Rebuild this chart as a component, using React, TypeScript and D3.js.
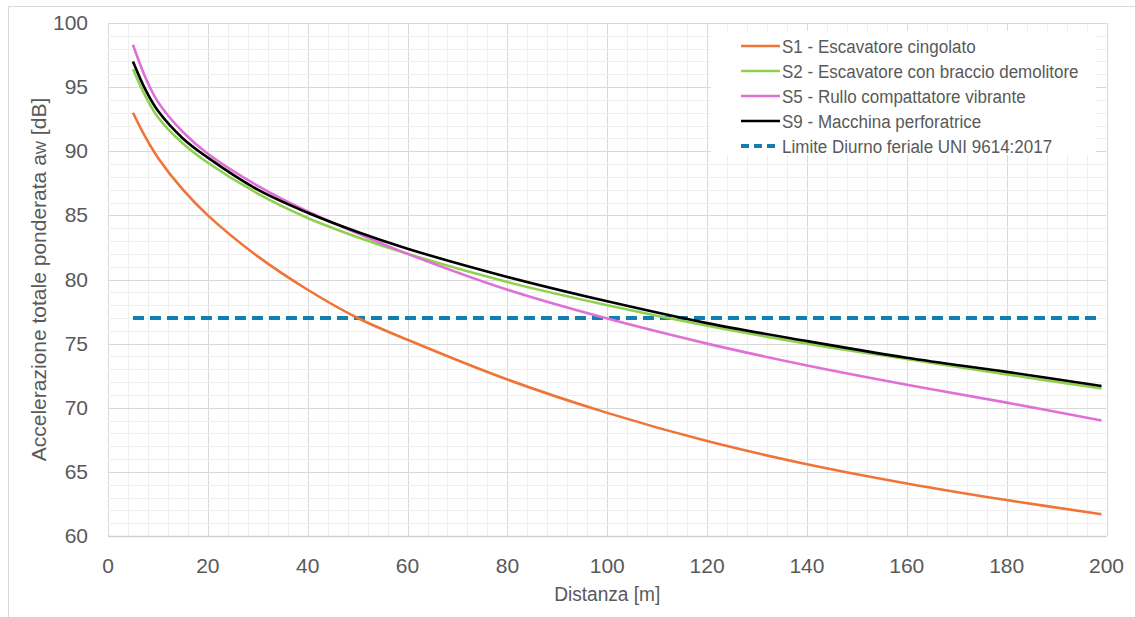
import React, { useEffect, useRef } from 'react';
import * as d3 from 'd3';

// distanze campionate [m]
const distances = [5, 7.5, 10, 15, 20, 30, 40, 50, 60, 80, 100, 120, 140, 160, 180, 199];

const s1 = [93.0, 91.1, 89.5, 87.0, 85.0, 81.8, 79.2, 77.0, 75.3, 72.2, 69.6, 67.4, 65.6, 64.1, 62.8, 61.7];
const s2 = [96.4, 94.3, 92.65, 90.6, 89.1, 86.7, 84.8, 83.3, 82.0, 79.8, 78.0, 76.4, 75.0, 73.8, 72.6, 71.5];
const s5 = [98.3, 95.75, 93.85, 91.5, 89.8, 87.3, 85.3, 83.6, 82.0, 79.2, 76.95, 75.0, 73.3, 71.8, 70.4, 69.0];
const s9 = [97.0, 94.8, 93.15, 91.0, 89.5, 87.0, 85.2, 83.7, 82.4, 80.2, 78.3, 76.6, 75.2, 73.9, 72.8, 71.7];

const limitX = [5, 199];
const limitValue = 77;

const seriesNames = [
  'S1 - Escavatore cingolato',
  'S2 - Escavatore con braccio demolitore',
  'S5 - Rullo compattatore vibrante',
  'S9 - Macchina perforatrice',
];
const limitName = 'Limite Diurno feriale UNI 9614:2017';
const seriesColors = ['#ef7536', '#8fd14f', '#e070d6', '#000000'];
const limitColor = '#127fb0';

const xTicks = [0, 20, 40, 60, 80, 100, 120, 140, 160, 180, 200];
const yTicks = [60, 65, 70, 75, 80, 85, 90, 95, 100];

const FONT = '"Liberation Sans", Arial, sans-serif';

function App() {
  const svgRef = useRef<SVGSVGElement>(null);

  useEffect(() => {
    const svg = d3.select(svgRef.current);
    svg.selectAll('*').remove();

    const width = 1135;
    const height = 617;
    const margin = { top: 23, right: 28, bottom: 81, left: 108 };

    const x = d3.scaleLinear().domain([0, 200]).range([margin.left, width - margin.right - 0.5]);
    const y = d3.scaleLinear().domain([60, 100]).range([height - margin.bottom, margin.top]);

    svg.attr('width', width).attr('height', height);

    // cornice esterna
    svg.append('path')
      .attr('d', `M8.5,${height} V6.5 H${width}`)
      .attr('fill', 'none')
      .attr('stroke', '#d9d9d9');

    // griglia
    const grid = svg.append('g');
    grid.selectAll('line.vx')
      .data(d3.range(0, 201, 4))
      .join('line')
      .attr('x1', d => Math.round(x(d)) + 0.5)
      .attr('x2', d => Math.round(x(d)) + 0.5)
      .attr('y1', y(60))
      .attr('y2', y(100))
      .attr('stroke', d => (d % 20 === 0 ? '#d9d9d9' : '#efefef'))
      .attr('stroke-width', 1);
    grid.selectAll('line.hy')
      .data(d3.range(60, 101, 1))
      .join('line')
      .attr('x1', x(0))
      .attr('x2', x(200))
      .attr('y1', d => Math.round(y(d)) + 0.5)
      .attr('y2', d => Math.round(y(d)) + 0.5)
      .attr('stroke', d => (d % 5 === 0 ? '#d9d9d9' : '#efefef'))
      .attr('stroke-width', 1);

    // assi
    svg.append('line')
      .attr('x1', x(0)).attr('x2', x(200))
      .attr('y1', Math.round(y(60)) + 0.5).attr('y2', Math.round(y(60)) + 0.5)
      .attr('stroke', '#d0d0d0').attr('stroke-width', 1.5);

    svg.append('g')
      .selectAll('text')
      .data(xTicks)
      .join('text')
      .attr('x', d => x(d))
      .attr('y', y(60) + 37)
      .attr('text-anchor', 'middle')
      .attr('font-family', FONT)
      .attr('font-size', 21)
      .attr('fill', '#595959')
      .text(d => d);

    svg.append('g')
      .selectAll('text')
      .data(yTicks)
      .join('text')
      .attr('x', x(0) - 20)
      .attr('y', d => y(d) + 7)
      .attr('text-anchor', 'end')
      .attr('font-family', FONT)
      .attr('font-size', 21)
      .attr('fill', '#595959')
      .text(d => d);

    svg.append('text')
      .attr('transform', `translate(${(x(0) + x(200)) / 2},601) scale(0.91,1)`)
      .attr('text-anchor', 'middle')
      .attr('font-family', FONT)
      .attr('font-size', 21)
      .attr('fill', '#595959')
      .text('Distanza [m]');

    const yl = svg.append('text')
      .attr('transform', `translate(46,${(y(60) + y(100)) / 2}) rotate(-90)`)
      .attr('text-anchor', 'middle')
      .attr('font-family', FONT)
      .attr('font-size', 21)
      .attr('fill', '#595959');
    yl.append('tspan').text('Accelerazione totale ponderata a');
    yl.append('tspan').attr('font-size', 14).text('W');
    yl.append('tspan').text(' [dB]');

    // limite
    svg.append('line')
      .attr('x1', x(limitX[0])).attr('x2', x(limitX[1]))
      .attr('y1', y(limitValue)).attr('y2', y(limitValue))
      .attr('stroke', limitColor)
      .attr('stroke-width', 4)
      .attr('stroke-dasharray', '11 6');

    // curve
    const line = d3.line<number>()
      .x((_, i) => x(distances[i]))
      .y(d => y(d))
      .curve(d3.curveCatmullRom.alpha(0.5));

    [s1, s2, s5, s9].forEach((s, i) => {
      svg.append('path')
        .datum(s)
        .attr('fill', 'none')
        .attr('stroke', seriesColors[i])
        .attr('stroke-width', 2.6)
        .attr('d', line);
    });

    // legenda
    const lg = svg.append('g');
    lg.append('rect')
      .attr('x', 711).attr('y', 31)
      .attr('width', 385).attr('height', 124)
      .attr('fill', '#ffffff');

    const rows = [...seriesNames, limitName];
    rows.forEach((name, i) => {
      const ry = 46 + i * 25;
      const isLimit = i === rows.length - 1;
      lg.append('line')
        .attr('x1', 741).attr('x2', 780)
        .attr('y1', ry).attr('y2', ry)
        .attr('stroke', isLimit ? limitColor : seriesColors[i])
        .attr('stroke-width', isLimit ? 4 : 2.6)
        .attr('stroke-dasharray', isLimit ? '8 5' : null);
      lg.append('text')
        .attr('transform', `translate(782,${ry + 6.5}) scale(0.895,1)`)
        .attr('font-family', FONT)
        .attr('font-size', 19)
        .attr('fill', '#595959')
        .text(name);
    });
  }, []);

  return <svg ref={svgRef} style={{ position: 'absolute', left: 0, top: 0 }}></svg>;
}

export default App;
